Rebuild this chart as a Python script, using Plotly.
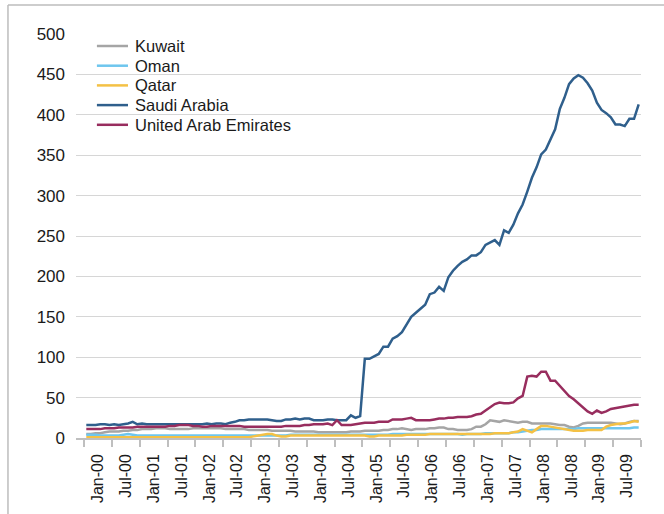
import plotly.graph_objects as go

# monthly, Jan-00 .. Dec-09 (120 points)
years = list(range(2000, 2010))
month_abbr = ["Jan", "Feb", "Mar", "Apr", "May", "Jun", "Jul", "Aug", "Sep", "Oct", "Nov", "Dec"]
months = [f"{m}-{str(y)[2:]}" for y in years for m in month_abbr]

kuwait = [
    5, 5, 6, 6, 7, 8, 8, 8, 9, 9, 10, 10,
    11, 11, 11, 12, 12, 12, 11, 11, 11, 11, 11, 12,
    12, 12, 12, 12, 12, 12, 11, 11, 11, 11, 11, 10,
    10, 10, 10, 10, 9, 9, 9, 9, 9, 8, 8, 8,
    8, 8, 7, 7, 7, 7, 7, 7, 7, 8, 8, 8,
    9, 9, 9, 9, 10, 10, 11, 11, 12, 11, 10, 11,
    11, 11, 12, 12, 13, 13, 11, 11, 10, 10, 10, 11,
    14, 14, 17, 22, 21, 20, 22, 21, 20, 19, 20, 20,
    18, 18, 18, 18, 18, 17, 16, 16, 14, 13, 15, 18,
    19, 19, 19, 19, 19, 19, 18, 17, 18, 20, 21, 21,
]
oman = [
    4, 4, 4, 3, 3, 3, 3, 3, 4, 5, 4, 3,
    3, 3, 3, 3, 3, 3, 3, 3, 3, 3, 3, 3,
    3, 3, 3, 3, 3, 3, 3, 3, 3, 3, 3, 3,
    3, 3, 3, 3, 3, 3, 3, 3, 4, 4, 4, 4,
    4, 4, 4, 4, 4, 4, 4, 4, 4, 4, 4, 4,
    4, 4, 4, 4, 4, 4, 5, 5, 5, 5, 5, 5,
    5, 5, 5, 5, 5, 5, 5, 5, 5, 4, 5, 5,
    5, 5, 6, 6, 6, 6, 6, 6, 7, 7, 8, 9,
    10, 10, 11, 11, 11, 11, 11, 11, 11, 11, 12, 12,
    12, 12, 12, 12, 12, 12, 12, 12, 12, 12, 13, 13,
]
qatar = [
    1, 1, 1, 1, 1, 1, 1, 1, 1, 1, 1, 1,
    1, 1, 1, 1, 1, 1, 1, 1, 1, 1, 1, 1,
    1, 1, 1, 1, 1, 1, 1, 1, 1, 1, 1, 1,
    2, 3, 4, 5, 5, 3, 2, 2, 3, 3, 3, 3,
    3, 3, 3, 3, 3, 3, 3, 3, 3, 3, 3, 3,
    3, 2, 2, 3, 3, 3, 3, 3, 3, 4, 4, 4,
    4, 4, 5, 5, 5, 5, 5, 5, 5, 5, 5, 5,
    5, 5, 5, 5, 6, 6, 6, 6, 7, 8, 11, 9,
    7, 11, 15, 15, 14, 13, 12, 11, 10, 9, 9, 9,
    10, 10, 10, 10, 14, 16, 17, 18, 18, 19, 21, 20,
]
saudi = [
    16, 16, 16, 17, 17, 16, 17, 16, 17, 18, 20, 17,
    18, 17, 17, 17, 17, 17, 17, 17, 17, 17, 17, 17,
    17, 17, 18, 17, 18, 18, 17, 19, 20, 22, 22, 23,
    23, 23, 23, 23, 22, 21, 21, 23, 23, 24, 23, 24,
    24, 22, 22, 22, 23, 23, 22, 22, 22, 28, 25, 27,
    98, 98, 101, 104, 113, 113, 123, 126, 131, 140, 150, 155,
    160, 165, 178, 180, 187, 182, 199, 207, 213, 218, 221, 226,
    226, 230, 239, 242, 245, 239, 257, 254, 264, 278, 289, 305,
    322, 335, 351, 357, 370, 382, 407, 421, 438, 445, 449, 446,
    439, 430, 415, 406, 402, 397, 388, 388, 386, 395, 395, 413,
]
uae = [
    11, 11, 11, 11, 12, 12, 12, 13, 13, 13, 13, 14,
    14, 14, 14, 14, 14, 14, 15, 15, 16, 16, 16, 15,
    15, 14, 14, 15, 15, 15, 15, 15, 15, 15, 14, 14,
    14, 14, 14, 14, 14, 14, 14, 15, 15, 15, 15, 16,
    16, 17, 17, 17, 18, 16, 22, 16, 16, 16, 17, 18,
    19, 19, 19, 20, 20, 20, 23, 23, 23, 24, 25, 22,
    22, 22, 22, 23, 24, 24, 25, 25, 26, 26, 26, 27,
    29, 30, 34, 39, 42, 44, 43, 43, 44, 49, 52, 76,
    77, 76, 82, 82, 71, 71, 65, 58, 52, 48, 43, 38,
    33, 30, 34, 31, 33, 36, 37, 38, 39, 40, 41, 41,
]

names = ["Kuwait", "Oman", "Qatar", "Saudi Arabia", "United Arab Emirates"]
series = [kuwait, oman, qatar, saudi, uae]
colors = ["#a5a5a5", "#6ec6ee", "#f4c145", "#2f5f8c", "#982d5e"]

FONT = "Liberation Sans, Arial, sans-serif"
TXT = "#1a1a1a"

idx = list(range(len(months)))
fig = go.Figure()
for name, vals, col in zip(names, series, colors):
    fig.add_trace(go.Scatter(x=idx, y=vals, name=name, mode="lines",
                             line=dict(color=col, width=2.5), showlegend=False,
                             hovertext=months))

# labels sit in the middle of each 6-month block, tick marks on the boundaries
label_pos = [i + 2.5 for i in idx[::6]]
label_txt = months[::6]
bounds = [i - 0.5 for i in idx[::6]] + [len(idx) - 0.5]

fig.update_xaxes(
    range=[-2.22, len(idx) - 0.5],
    tickmode="array", tickvals=label_pos, ticktext=label_txt,
    tickangle=-90, ticks="", ticklabelstandoff=8,
    showgrid=False, zeroline=False,
    showline=True, linecolor="#bfbfbf", linewidth=1.5,
    minor=dict(tickmode="array", tickvals=bounds, ticks="outside", ticklen=7,
               tickcolor="#bfbfbf", tickwidth=1.5, showgrid=False),
    tickfont=dict(family=FONT, size=16, color=TXT),
)
fig.update_yaxes(
    range=[0, 500], dtick=50, showgrid=True, gridcolor="#d6d6d6", gridwidth=1.3,
    zeroline=False, showline=False, ticks="", ticklabelstandoff=10,
    tickfont=dict(family=FONT, size=17, color=TXT),
)

# legend drawn by hand (tighter row spacing than plotly's legend allows)
for k, (name, col) in enumerate(zip(names, colors)):
    yp = (438 - (46 + 19.7 * k)) / 404
    fig.add_shape(type="line", xref="paper", yref="paper", x0=0.037, x1=0.092, y0=yp, y1=yp,
                  line=dict(color=col, width=2.5))
    fig.add_annotation(x=0.101, y=yp, xref="paper", yref="paper", text=name, showarrow=False,
                       xanchor="left", yanchor="middle",
                       font=dict(family=FONT, size=16.5, color=TXT))

# outer frame (left and top edges visible in the picture)
frame = dict(color="#bdbdbd", width=1.5)
fig.add_shape(type="line", xref="paper", yref="paper", x0=-0.1204, x1=-0.1204, y0=-0.3, y1=1.072, line=frame)
fig.add_shape(type="line", xref="paper", yref="paper", x0=-0.1204, x1=1.2, y0=1.072, y1=1.072, line=frame)

fig.update_layout(
    width=664, height=514,
    margin=dict(l=76, r=23, t=34, b=76),
    plot_bgcolor="white", paper_bgcolor="white",
    font=dict(family=FONT, size=17, color=TXT),
)

fig.write_html("out.html", config={"displayModeBar": False},
               post_script="document.body.style.margin='0';")
